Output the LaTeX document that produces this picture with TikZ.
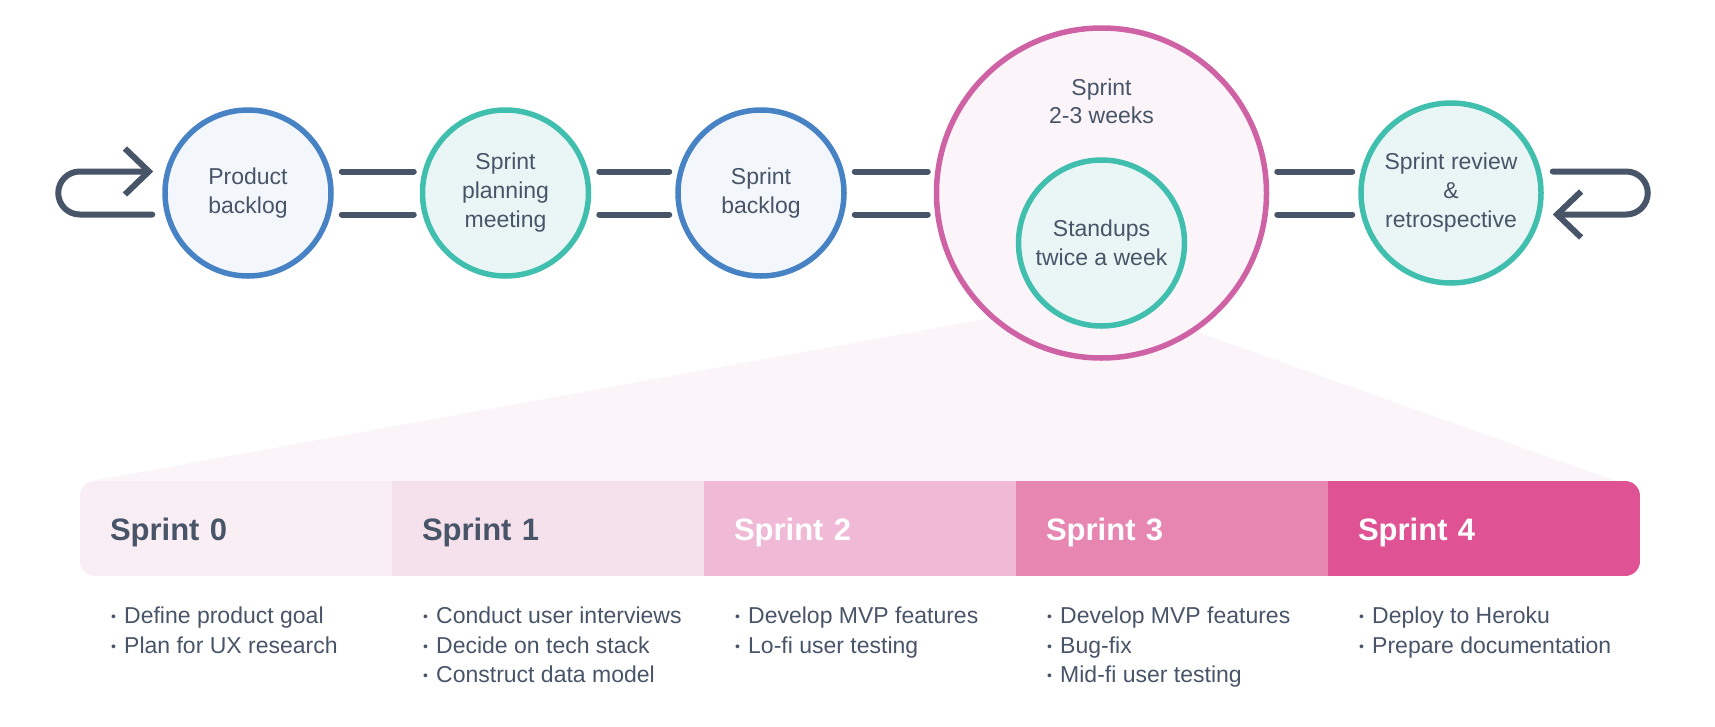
\documentclass[tikz,border=0pt]{standalone}
\usepackage{fontspec}
\setmainfont{Liberation Sans}
\usepackage{xcolor}
\usetikzlibrary{positioning,arrows.meta,backgrounds}

\definecolor{ink}{HTML}{485468}
\definecolor{blueline}{HTML}{4682C4}
\definecolor{bluefill}{HTML}{F3F7FB}
\definecolor{tealline}{HTML}{40BFAE}
\definecolor{tealfill}{HTML}{EAF6F6}
\definecolor{pinkline}{HTML}{CF62A4}
\definecolor{pinkfill}{HTML}{FBF5FA}
\definecolor{sp0}{HTML}{FAEEF5}
\definecolor{sp1}{HTML}{F5E1EB}
\definecolor{sp2}{HTML}{F0B9D5}
\definecolor{sp3}{HTML}{E886B2}
\definecolor{sp4}{HTML}{DF5294}

\newcommand{\itm}{\makebox[13pt][l]{\raisebox{2pt}{\fontsize{14}{14}\selectfont •}}}

\begin{document}
\begin{tikzpicture}[
  x=1pt, y=1pt,
  node distance=86pt,
  stage/.style={circle, line width=5.5pt, minimum size=166pt, inner sep=0pt, align=center, text=ink, font=\fontsize{23}{29}\selectfont},
  bluestage/.style={stage, draw=blueline, fill=bluefill},
  tealstage/.style={stage, draw=tealline, fill=tealfill},
  link/.style={line width=6pt, line cap=round, ink, shorten <=8pt, shorten >=6pt},
  loopback/.style={line width=6pt, line cap=round, ink, -{Straight Barb[length=24pt,width=46pt,sharp]}},
  sprintbox/.style={minimum width=312pt, minimum height=95pt, inner sep=0pt, outer sep=0pt, text width=252pt, align=left, text height=23pt, text depth=0pt, font=\bfseries\fontsize{31}{31}\selectfont},
  tasks/.style={anchor=north west, inner sep=0pt, align=left, text=ink, font=\fontsize{23}{29.5}\selectfont}
]
\useasboundingbox (0,0) rectangle (1715,-726);

% stages of the cycle
\node[bluestage] (pb) at (248,-193) {Product\\backlog};
\node[tealstage, right=of pb] (spm) {Sprint\\planning\\meeting};
\node[bluestage, right=84pt of spm] (sbl) {Sprint\\backlog};
\node[stage, draw=pinkline, fill=pinkfill, minimum size=330pt, right=87pt of sbl] (sprint) {};
\node[align=center, text=ink, font=\fontsize{23}{28}\selectfont] (sprtxt) at ([yshift=92pt]sprint.center) {Sprint\\2-3 weeks};
\node[tealstage] (stand) at ([yshift=-50pt]sprint.center) {Standups\\twice a week};
\node[tealstage, minimum size=180pt, right=89pt of sprint] (review) {Sprint review\\\&\\retrospective};

\draw[link] ([yshift=21.5pt]pb.east) -- ([yshift=21.5pt]spm.west);
\draw[link] ([yshift=-21.5pt]pb.east) -- ([yshift=-21.5pt]spm.west);
\draw[link] ([yshift=21.5pt]spm.east) -- ([yshift=21.5pt]sbl.west);
\draw[link] ([yshift=-21.5pt]spm.east) -- ([yshift=-21.5pt]sbl.west);
\draw[link] ([yshift=21.5pt]sbl.east) -- ([yshift=21.5pt]sprint.west);
\draw[link] ([yshift=-21.5pt]sbl.east) -- ([yshift=-21.5pt]sprint.west);
\draw[link] ([yshift=21.5pt]sprint.east) -- ([yshift=21.5pt]review.west);
\draw[link] ([yshift=-21.5pt]sprint.east) -- ([yshift=-21.5pt]review.west);

% loops at both ends
\draw[loopback] ([xshift=-10pt,yshift=-21.5pt]pb.west) -- ++(-72.5,0)
  arc[start angle=270, end angle=90, radius=21.5pt] -- ([xshift=-9pt,yshift=21.5pt]pb.west);
\draw[loopback] ([xshift=9pt,yshift=21.5pt]review.east) -- ++(73.5,0)
  arc[start angle=90, end angle=-90, radius=21.5pt] -- ([xshift=9pt,yshift=-21.5pt]review.east);

% sprint bar
\coordinate (barnw) at (80,-481);
\begin{scope}
\clip[rounded corners=15pt] (barnw) rectangle ++(1560,-95);
\node[sprintbox, fill=sp0, text=ink, anchor=north west] (s0) at (barnw) {Sprint 0};
\node[sprintbox, fill=sp1, text=ink, right=0pt of s0] (s1) {Sprint 1};
\node[sprintbox, fill=sp2, text=white, right=0pt of s1] (s2) {Sprint 2};
\node[sprintbox, fill=sp3, text=white, right=0pt of s2] (s3) {Sprint 3};
\node[sprintbox, fill=sp4, text=white, right=0pt of s3] (s4) {Sprint 4};
\end{scope}

\begin{scope}[on background layer]
\fill[pinkfill] ([xshift=12pt]s0.north west) -- ([yshift=-105pt]sprint.center) -- ([xshift=-24pt]s4.north east) -- cycle;
\end{scope}

\node[tasks] (t0) at ([xshift=31pt,yshift=-31pt]s0.south west) {\itm Define product goal\\\itm Plan for UX research};
\node[tasks] (t1) at ([xshift=31pt,yshift=-31pt]s1.south west) {\itm Conduct user interviews\\\itm Decide on tech stack\\\itm Construct data model};
\node[tasks] (t2) at ([xshift=31pt,yshift=-31pt]s2.south west) {\itm Develop MVP features\\\itm Lo-fi user testing};
\node[tasks] (t3) at ([xshift=31pt,yshift=-31pt]s3.south west) {\itm Develop MVP features\\\itm Bug-fix\\\itm Mid-fi user testing};
\node[tasks] (t4) at ([xshift=31pt,yshift=-31pt]s4.south west) {\itm Deploy to Heroku\\\itm Prepare documentation};
\end{tikzpicture}
\end{document}
